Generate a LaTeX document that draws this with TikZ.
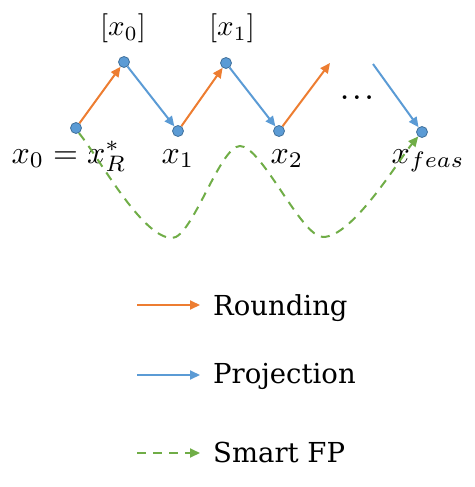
\documentclass[tikz,border=0pt]{standalone}
\usepackage{fontspec}
\newfontfamily\legendfont{DejaVu Serif}
\usetikzlibrary{arrows.meta}
\definecolor{rorange}{HTML}{ED7D31}
\definecolor{pblue}{HTML}{5B9BD5}
\definecolor{dotedge}{HTML}{41719C}
\definecolor{fpgreen}{HTML}{70AD47}
\tikzset{
  ptdot/.style={circle,fill=pblue,draw=dotedge,line width=0.8pt,inner sep=0pt,minimum size=11pt},
  rndarrow/.style={draw=rorange,line width=2pt,-{Triangle[length=10pt,width=9pt]}},
  projarrow/.style={draw=pblue,line width=2pt,-{Triangle[length=10pt,width=9pt]}},
  fparrow/.style={draw=fpgreen,line width=2pt,dash pattern=on 9pt off 7pt,-{Triangle[length=10pt,width=9pt]}},
  biglab/.style={anchor=base,inner sep=0pt,scale=3.2},
  toplab/.style={anchor=base,inner sep=0pt,scale=2.9},
  leglab/.style={anchor=base west,inner sep=0pt,font=\legendfont\fontsize{27.5}{32}\selectfont},
}
\begin{document}
\begin{tikzpicture}[x=1pt,y=1pt]
\useasboundingbox (0,0) rectangle (474,-487);
% points
\node[ptdot] (x0) at (76,-128) {};
\node[ptdot] (r0) at (124,-62) {};
\node[ptdot] (x1) at (178,-131) {};
\node[ptdot] (r1) at (226,-63) {};
\node[ptdot] (x2) at (279,-131) {};
\node[ptdot] (xf) at (422,-132) {};
\coordinate (tipA) at (330,-63);
\coordinate (startB) at (373,-64);
% labels
\node[biglab] (l0) at (69,-163) {$x_0 = x_R^*$};
\node[biglab] (l1) at (178,-163) {$x_1$};
\node[biglab] (l2) at (287,-163) {$x_2$};
\node[biglab] (lf) at (428,-163) {$x_{feas}$};
\node[toplab] (lr0) at (123,-36) {$[x_0]$};
\node[toplab] (lr1) at (232,-36) {$[x_1]$};
\node[inner sep=0pt,scale=2.4,font=\boldmath] (dots) at (357,-98) {$\dots$};
% rounding / projection steps
\draw[rndarrow] (x0) -- (r0);
\draw[projarrow] (r0) -- (x1);
\draw[rndarrow] (x1) -- (r1);
\draw[projarrow] (r1) -- (x2);
\draw[rndarrow] (x2) -- (tipA);
\draw[projarrow] (startB) -- (xf);
% smart FP curve
\coordinate (m1) at (172,-238);
\coordinate (pk) at (240,-146);
\coordinate (m2) at (323,-237);
\draw[fparrow] (x0.-60) to[out=-50,in=180,looseness=0.55] (m1)
  to[out=0,in=180,looseness=0.45] (pk)
  to[out=0,in=180,looseness=0.45] (m2)
  to[out=0,in=-130,looseness=0.55] (xf);
% legend
\coordinate (a1) at (137,-305); \coordinate (b1) at (200,-305);
\coordinate (a2) at (137,-375); \coordinate (b2) at (200,-375);
\coordinate (a3) at (137,-453); \coordinate (b3) at (200,-453);
\draw[rndarrow] (a1) -- (b1);
\draw[projarrow] (a2) -- (b2);
\draw[fparrow] (a3) -- (b3);
\node[leglab] (t1) at (213,-315) {Rounding};
\node[leglab] (t2) at (213,-383) {Projection};
\node[leglab] (t3) at (213,-462) {Smart FP};
\end{tikzpicture}
\end{document}
